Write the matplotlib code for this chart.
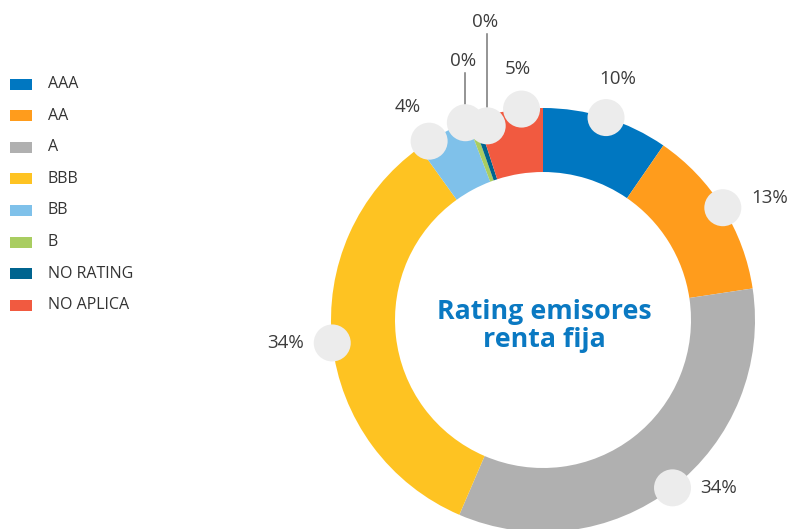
import numpy as np
import matplotlib
matplotlib.use('Agg')
import matplotlib.pyplot as plt
from matplotlib.patches import Circle, Rectangle

# ── data ────────────────────────────────────────────────────────────────────
categories = ['AAA', 'AA', 'A', 'BBB', 'BB', 'B', 'NO RATING', 'NO APLICA']
shares = [9.6, 13.0, 33.8, 33.6, 4.1, 0.4, 0.4, 5.0]
colors = ['#0077c1', '#ff9c1c', '#b0b0b0', '#fec322', '#7fc1ea', '#a9cd61', '#00648f', '#f15a40']
title = 'Rating emisores\nrenta fija'

W, H = 788, 529
cx, cy = 543, H - 320
R_out, ring = 212, 64
bubble_r = 18.5

plt.rcParams['font.family'] = ['Open Sans', 'DejaVu Sans']

fig = plt.figure(figsize=(W / 100, H / 100), dpi=100)
ax = fig.add_axes([0, 0, 1, 1])

wedges, _ = ax.pie(shares, colors=colors, startangle=90, counterclock=False,
                   radius=R_out, center=(cx, cy),
                   wedgeprops=dict(width=ring, linewidth=0))
ax.set_xlim(0, W)
ax.set_ylim(0, H)
ax.set_aspect('equal')
ax.axis('off')

ax.text(cx + 1, cy - 6, title, ha='center', va='center', fontsize=19.3,
        fontweight='bold', color='#0a79c2', linespacing=1.1)

# bubbles + percent labels; crowded slices nudged apart
nudge = {4: -4.2, 5: -1.3, 6: 2.7, 7: 3.2}
bubble_rad = {6: R_out - 10}
leader_h = {5: 62, 6: 104}
total = sum(shares)
cum = 0.0
for i, v in enumerate(shares):
    mid = (cum + v / 2) / total * 360 + nudge.get(i, 0)
    cum += v
    t = np.radians(mid)
    r = bubble_rad.get(i, R_out)
    bx, by = cx + r * np.sin(t), cy + r * np.cos(t)
    ax.add_patch(Circle((bx, by), bubble_r, color='#ececec', zorder=5, lw=0))
    txt = f'{v:.0f}%'
    if i in leader_h:
        ty = by + leader_h[i]
        ax.plot([bx, bx], [by + bubble_r, ty - 12], color='#777777', lw=1.1, zorder=4)
        ax.text(bx - 2, ty, txt, ha='center', va='center', fontsize=13.5, color='#3c3c3c')
    elif abs(np.sin(t)) > 0.55:
        side = np.sign(np.sin(t))
        dy = 10 if np.cos(t) > 0 else 0
        ax.text(bx + side * 28, by + dy, txt, ha='left' if side > 0 else 'right',
                va='center', fontsize=13.5, color='#3c3c3c')
    else:
        ax.text(bx + 40 * np.sin(t), by + 40 * np.cos(t), txt, ha='center',
                va='center', fontsize=13.5, color='#3c3c3c')

# legend
for i, (name, c) in enumerate(zip(categories, colors)):
    y = H - (84 + i * 31.6)
    ax.add_patch(Rectangle((10, y - 5.5), 22, 11, color=c, lw=0))
    ax.text(48, y, name, ha='left', va='center', fontsize=11.5, color='#333333')

plt.savefig('out.png', dpi=100)
